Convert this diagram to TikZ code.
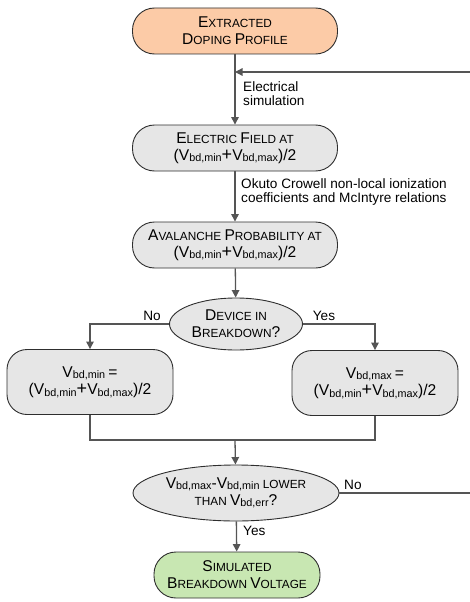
\documentclass[tikz,border=0pt]{standalone}
\usepackage{fontspec}
\setmainfont{Liberation Sans}
\usetikzlibrary{shapes.geometric,arrows.meta}
\definecolor{peach}{HTML}{FCCBA7}
\definecolor{boxgray}{HTML}{E6E6E6}
\definecolor{boxgreen}{HTML}{C8E7B2}
\definecolor{edgec}{HTML}{2E2E2E}
\definecolor{linec}{HTML}{555555}
\newcommand{\Bg}[1]{{\fontsize{15.6}{17}\selectfont #1}}
\newcommand{\Sm}[1]{{\fontsize{11.8}{17}\selectfont #1}}
\newcommand{\Pl}{{\fontsize{18}{17}\selectfont +}}
\newcommand{\Vsub}[1]{\Bg{V}{\fontsize{10.8}{10}\selectfont\raisebox{-1.5pt}{#1}}}
\tikzset{
  term/.style={draw=edgec, line width=0.9pt, rounded corners=22pt, align=center,
    minimum width=205pt, minimum height=46pt, inner sep=0pt, font=\fontsize{11.8}{17}\selectfont},
  sidebox/.style={draw=edgec, line width=0.9pt, rounded corners=20pt, align=center, fill=boxgray,
    minimum width=166pt, minimum height=65pt, inner sep=0pt, font=\fontsize{11.8}{17.5}\selectfont},
  decis/.style={draw=edgec, line width=0.9pt, ellipse, align=center, fill=boxgray, inner sep=0pt,
    font=\fontsize{11.8}{17}\selectfont},
  arr/.style={draw=linec, line width=1.3pt, -{Triangle[length=7.5pt,width=7.5pt]}},
  ln/.style={draw=linec, line width=1.3pt},
  lbl/.style={font=\fontsize{13.6}{14}\selectfont, align=left, inner sep=0pt, text=black}
}
\begin{document}
\begin{tikzpicture}[x=1pt,y=-1pt]
\useasboundingbox (0,0) rectangle (469,602);
\node[term, fill=peach] (a) at (235,31) {\Bg{E}\Sm{XTRACTED}\\\Bg{D}\Sm{OPING} \Bg{P}\Sm{ROFILE}};
\node[term, fill=boxgray] (b) at (235,148) {\Bg{E}\Sm{LECTRIC} \Bg{F}\Sm{IELD AT}\\\Bg{(}\Vsub{bd,min}\Pl\Vsub{bd,max}\Bg{)/2}};
\node[term, fill=boxgray] (c) at (235,245) {\Bg{A}\Sm{VALANCHE} \Bg{P}\Sm{ROBABILITY AT}\\\Bg{(}\Vsub{bd,min}\Pl\Vsub{bd,max}\Bg{)/2}};
\node[decis, minimum width=133pt, minimum height=52pt] (d) at (236,324) {\Bg{D}\Sm{EVICE IN}\\\Bg{B}\Sm{REAKDOWN}\Bg{?}};
\node[sidebox] (l) at (90,382) {\Vsub{bd,min} \Bg{=}\\\Bg{(}\Vsub{bd,min}\Pl\Vsub{bd,max}\Bg{)/2}};
\node[sidebox] (r) at (375,383) {\Vsub{bd,max} \Bg{=}\\\Bg{(}\Vsub{bd,min}\Pl\Vsub{bd,max}\Bg{)/2}};
\node[decis, minimum width=206pt, minimum height=56pt] (e) at (236,493) {\Vsub{bd,max}\Bg{-}\Vsub{bd,min} \Sm{LOWER}\\\Sm{THAN} \Vsub{bd,err}\Bg{?}};
\node[term, fill=boxgreen, minimum width=166pt] (f) at (237,575) {\Bg{S}\Sm{IMULATED}\\\Bg{B}\Sm{REAKDOWN} \Bg{V}\Sm{OLTAGE}};
% coordinates
\coordinate (fb) at (235,72);
\coordinate (fbr) at (472,72);
\coordinate (m) at (235,440);
% connectors
\draw[arr] (a) -- (b);
\node[lbl, anchor=north west] (la) at (243,81) {Electrical\\simulation};
\draw[arr] (b) -- (c);
\node[lbl, anchor=north west] (lb) at (241,178) {Okuto Crowell non-local ionization\\coefficients and McIntyre relations};
\draw[arr] (c) -- (d);
\draw[arr] (d.west) -| (l.north);
\node[lbl, anchor=south] (no1) at (152,321) {No};
\draw[arr] (d.east) -| (r.north);
\node[lbl, anchor=south] (yes1) at (324,321) {Yes};
\draw[ln] (l.south) |- (m);
\draw[ln] (r.south) |- (m);
\draw[arr] (m) -- (e);
\draw[arr] (e) -- (f);
\node[lbl, anchor=west] (yes2) at (243,531) {Yes};
\draw[ln] (e.east) -- (e.east -| fbr) -- (fbr);
\draw[arr] (fbr) -- (fb);
\node[lbl, anchor=south west] (no2) at (344,490) {No};
\end{tikzpicture}
\end{document}
